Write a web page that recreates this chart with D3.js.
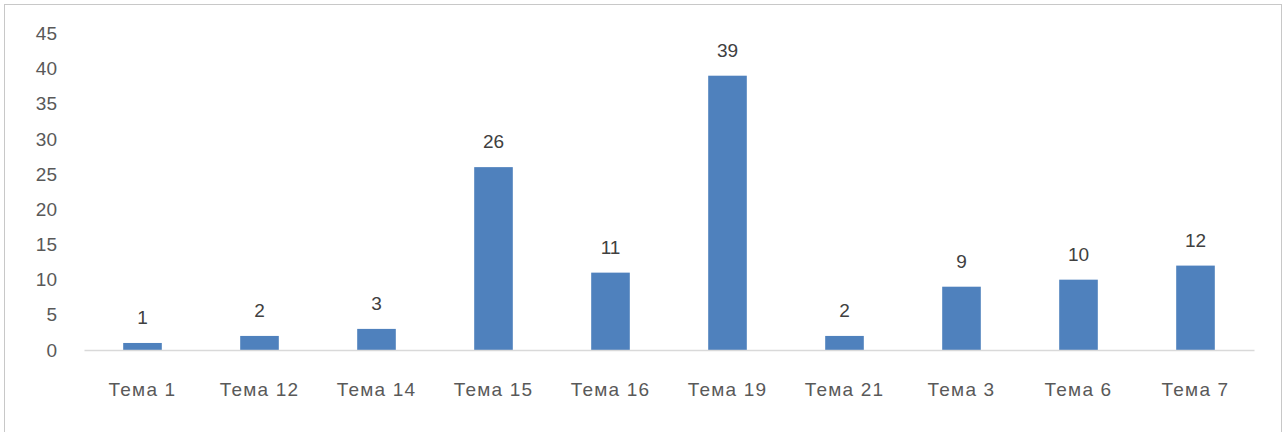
<!DOCTYPE html>
<html>
<head>
<meta charset="utf-8">
<script src="https://cdn.jsdelivr.net/npm/d3@7"></script>
<style>
  body { margin: 0; background: #fff; }
  text { font-family: "Liberation Sans", Arial, sans-serif; }
</style>
</head>
<body>
<div id="chart"></div>
<script>
var categories = ["Тема 1", "Тема 12", "Тема 14", "Тема 15", "Тема 16", "Тема 19", "Тема 21", "Тема 3", "Тема 6", "Тема 7"];
var values = [1, 2, 3, 26, 11, 39, 2, 9, 10, 12];
var yTicks = [0, 5, 10, 15, 20, 25, 30, 35, 40, 45];

var svgWidth = 1282;
var svgHeight = 432;

var margin = { top: 33.5, right: 28, bottom: 82, left: 84 };
var width = svgWidth - margin.left - margin.right;
var height = svgHeight - margin.top - margin.bottom;

var svg = d3.select("#chart")
  .append("svg")
  .attr("width", svgWidth)
  .attr("height", svgHeight);

// chart border
svg.append("rect")
  .attr("x", 4.5)
  .attr("y", 4.5)
  .attr("width", svgWidth - 5)
  .attr("height", svgHeight + 10)
  .attr("fill", "none")
  .attr("stroke", "#c8c8c8");

var chartGroup = svg.append("g")
  .attr("transform", `translate(${margin.left}, ${margin.top})`);

var x = d3.scaleBand()
  .domain(categories)
  .range([0, width])
  .paddingInner(0.67)
  .paddingOuter(0.335);

var y = d3.scaleLinear()
  .domain([0, 45])
  .range([height, 0]);

// y axis labels, no line
var leftAxis = d3.axisLeft(y).tickValues(yTicks).tickSize(0).tickPadding(27);
var gy = chartGroup.append("g").call(leftAxis);
gy.select(".domain").remove();
gy.selectAll("text")
  .attr("font-size", 19)
  .attr("fill", "#595959")
  .attr("font-family", "Liberation Sans, Arial, sans-serif");

// bars
chartGroup.selectAll("rect.bar")
  .data(values)
  .enter()
  .append("rect")
  .attr("class", "bar")
  .attr("x", (d, i) => x(categories[i]))
  .attr("y", d => y(d))
  .attr("width", x.bandwidth())
  .attr("height", d => height - y(d))
  .attr("fill", "#4f81bd");

// baseline + category labels
var bottomAxis = d3.axisBottom(x).tickSize(0).tickPadding(33);
var gx = chartGroup.append("g")
  .attr("transform", `translate(0, ${height})`)
  .call(bottomAxis);
gx.select(".domain")
  .attr("stroke", "#d9d9d9")
  .attr("stroke-width", 1.5);
gx.selectAll("text")
  .attr("font-size", 19)
  .attr("fill", "#595959")
  .attr("letter-spacing", "1.2px")
  .attr("font-family", "Liberation Sans, Arial, sans-serif");

// value labels
chartGroup.selectAll("text.val")
  .data(values)
  .enter()
  .append("text")
  .attr("class", "val")
  .attr("x", (d, i) => x(categories[i]) + x.bandwidth() / 2)
  .attr("y", d => y(d) - 19)
  .attr("text-anchor", "middle")
  .attr("font-size", 19)
  .attr("fill", "#404040")
  .text(d => d);
</script>
</body>
</html>
